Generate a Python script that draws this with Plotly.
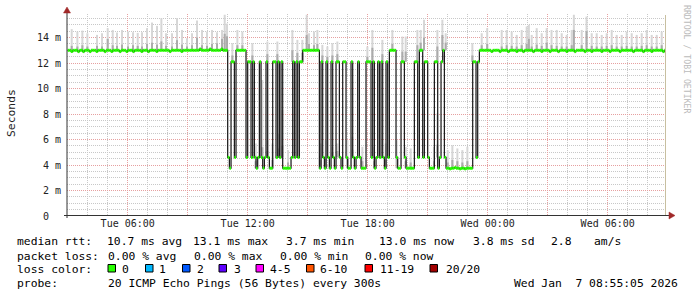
import plotly.graph_objects as go
from datetime import datetime, timedelta

# ---------------- data ----------------
START = datetime(2026, 1, 6, 3, 0)
STEP_MIN = 5

# median RTT (ms), one value per 5-minute step, rows = one hour
median_ms = [
    13.0, 13.0, 12.9, 13.0, 13.0, 13.0, 12.9, 13.0, 13.0, 12.9, 13.0, 13.0,  # Tue 03
    13.0, 12.9, 13.0, 13.0, 13.0, 12.9, 13.0, 13.0, 13.0, 13.0, 12.9, 13.0,  # 04
    13.0, 13.0, 12.9, 13.0, 13.0, 13.0, 13.0, 12.9, 13.0, 13.0, 13.0, 12.9,  # 05
    13.0, 13.0, 13.0, 12.9, 13.0, 13.0, 13.0, 13.0, 12.9, 13.0, 13.0, 13.0,  # 06
    12.9, 13.0, 13.0, 13.0, 13.0, 12.9, 13.0, 13.0, 13.0, 13.0, 13.0, 13.0,  # 07
    13.0, 12.9, 13.0, 13.0, 13.0, 13.0, 13.0, 13.0, 12.9, 13.0, 13.0, 13.0,  # 08
    13.0, 13.0, 13.0, 13.0, 13.0, 13.0, 13.0, 13.1, 13.0, 13.0, 13.0, 13.0,  # 09
    13.0, 13.1, 13.0, 13.0, 13.0, 13.0, 13.0, 13.0, 13.1, 13.0, 13.0, 13.0,  # 10
    4.6, 3.75, 12.1, 12.1, 4.6, 13.0, 13.0, 13.0, 13.0, 13.0, 13.0, 4.6,     # 11
    12.1, 12.1, 4.6, 12.1, 4.6, 3.75, 4.6, 12.1, 4.6, 3.75, 4.6, 12.1,       # 12
    4.6, 3.75, 3.75, 12.1, 12.1, 4.6, 12.1, 4.6, 12.1, 3.75, 3.75, 3.75,     # 13
    3.75, 3.75, 4.6, 12.1, 4.6, 12.1, 4.6, 12.1, 12.1, 13.0, 13.0, 13.0,     # 14
    13.0, 13.0, 13.0, 13.0, 13.0, 13.0, 13.0, 3.75, 12.1, 4.6, 3.75, 12.1,   # 15
    4.6, 3.75, 12.1, 4.6, 3.75, 12.1, 12.1, 4.6, 3.75, 12.1, 12.1, 4.6,      # 16
    3.75, 3.75, 12.1, 4.6, 3.75, 4.6, 12.1, 4.6, 3.75, 3.75, 3.75, 12.1,     # 17
    12.1, 12.1, 4.6, 12.1, 3.75, 4.6, 12.1, 4.6, 12.1, 4.6, 3.75, 12.1,      # 18
    4.6, 13.0, 13.0, 13.0, 13.0, 4.6, 3.75, 3.75, 12.1, 12.1, 4.6, 3.75,     # 19
    3.75, 3.75, 3.75, 3.75, 12.1, 12.1, 4.6, 13.0, 13.0, 4.6, 12.1, 12.1,    # 20
    4.6, 3.75, 3.75, 3.75, 12.1, 12.1, 3.75, 4.6, 12.1, 13.0, 4.6, 3.75,     # 21
    3.75, 3.7, 3.75, 3.75, 3.8, 3.75, 3.75, 3.7, 3.75, 3.75, 3.7, 3.75,      # 22
    3.75, 3.75, 3.75, 12.1, 12.1, 4.6, 12.1, 13.0, 13.0, 13.0, 13.0, 13.0,   # 23
    13.0, 13.0, 12.9, 13.0, 13.0, 13.0, 13.0, 12.9, 13.0, 13.0, 13.0, 13.0,  # Wed 00
    12.9, 13.0, 13.0, 13.0, 13.0, 12.9, 13.0, 13.0, 13.0, 12.9, 13.0, 13.0,  # 01
    13.0, 13.0, 13.0, 12.9, 13.0, 13.0, 13.0, 13.0, 12.9, 13.0, 13.0, 13.0,  # 02
    13.0, 12.9, 13.0, 13.0, 13.0, 13.0, 12.9, 13.0, 13.0, 13.0, 13.0, 12.9,  # 03
    13.0, 13.0, 13.0, 13.0, 12.9, 13.0, 13.0, 13.0, 13.0, 13.0, 12.9, 13.0,  # 04
    13.0, 13.0, 12.9, 13.0, 13.0, 13.0, 13.0, 13.0, 12.9, 13.0, 13.0, 13.0,  # 05
    13.0, 12.9, 13.0, 13.0, 13.0, 13.0, 13.0, 12.9, 13.0, 13.0, 13.0, 13.0,  # 06
    13.0, 13.0, 13.0, 12.9, 13.0, 13.0, 13.0, 13.0, 13.0, 12.9, 13.0, 13.0,  # 07
    13.0, 13.0, 12.9, 13.0, 13.0, 13.0, 13.0, 13.0, 13.0, 12.9, 13.0, 13.0,  # 08
]

# smoke (ping spread) bars: position in steps, low, high, dense-core top (ms)
smoke_pos = [
    2.4, 5.8, 8.8, 11.8, 17.6, 20.6, 24.0, 27.0, 29.6, 32.6, 36.2, 39.2, 42.0, 44.6, 47.6, 50.6,
    53.6, 56.2, 59.0, 62.6, 65.6, 68.6, 71.6, 74.6, 77.6, 80.6, 83.6, 86.6, 89.6, 92.6, 94.2, 95.6,
    98.8, 101.8, 104.8, 110.8, 119.8, 125.8, 134.8, 137.8, 140.8, 143.4, 144.8, 147.8, 149.8, 152.8, 155.8,
    158.8, 161.8, 179.8, 182.8, 188.8, 194.8, 200.8, 202.8, 209.8, 211.8, 213.8, 221.8, 224.8, 226.8, 242.8,
    112.8, 116.8, 119.8, 122.8, 126.8, 128.8, 132.2, 151.8, 154.8, 158.8, 161.8, 167.8, 170.8,
    176.8, 183.8, 190.8, 197.4, 202.8, 205.8, 219.8, 221.8, 228.0, 230.8, 233.8, 236.8, 239.8,
    248.4, 251.7, 260.4, 263.4, 266.4, 269.4, 272.4, 275.4, 276.7, 278.4, 281.4, 284.4, 287.4, 290.3,
    293.4, 296.4, 299.4, 302.4, 303.7, 308.4, 311.3, 314.4, 317.4, 320.4, 323.4, 326.4, 329.4, 332.4,
    335.4, 338.4, 341.4, 344.4, 347.4, 350.4, 353.4, 356.4,
]
smoke_lo = [
    12.95, 12.95, 12.95, 12.95, 12.95, 12.95, 12.95, 12.95, 12.95, 12.95, 12.95, 12.95, 12.95, 12.95, 12.95, 12.95,
    12.95, 12.95, 12.95, 12.95, 12.95, 12.95, 12.95, 12.95, 12.95, 12.95, 12.95, 12.95, 12.95, 12.95, 12.95, 12.95,
    12.1, 13.0, 13.0, 12.1, 12.1, 12.1, 12.1, 12.1, 12.1, 13.0, 13.0, 13.0, 13.0, 12.1, 12.1,
    12.1, 12.1, 12.1, 12.1, 12.1, 13.0, 12.1, 12.1, 12.1, 13.0, 13.0, 12.1, 13.0, 13.0, 12.1,
    3.75, 4.6, 4.6, 3.75, 4.6, 4.6, 3.75, 3.75, 3.75, 4.6, 4.6, 3.75, 4.6,
    3.75, 3.75, 3.75, 3.75, 3.75, 3.75, 3.75, 4.6, 3.75, 3.75, 3.75, 3.75, 3.75,
    12.95, 12.95, 12.95, 12.95, 12.95, 12.95, 12.95, 12.95, 12.95, 12.95, 12.95, 12.95, 12.95, 12.95,
    12.95, 12.95, 12.95, 12.95, 12.95, 12.95, 12.95, 12.95, 12.95, 12.95, 12.95, 12.95, 12.95, 12.95,
    12.95, 12.95, 12.95, 12.95, 12.95, 12.95, 12.95, 12.95,
]
smoke_hi = [
    14.66, 14.47, 14.55, 14.34, 14.21, 14.34, 14.74, 14.60, 14.40, 14.60, 14.47, 14.42, 14.37, 14.42, 14.74, 15.18,
    14.92, 15.52, 14.34, 14.34, 15.52, 14.60, 13.95, 14.34, 15.34, 14.60, 14.47, 14.60, 14.42, 14.60, 15.79, 15.10,
    13.56, 14.60, 14.47, 13.56, 13.69, 13.69, 14.60, 13.82, 13.82, 15.79, 14.34, 14.47, 14.60, 13.43, 13.30,
    13.56, 13.69, 13.30, 14.60, 13.82, 14.60, 14.08, 14.08, 14.60, 14.60, 15.40, 14.60, 15.40, 14.34, 13.56,
    5.69, 10.67, 5.95, 5.69, 6.48, 8.31, 5.17, 5.69, 5.95, 5.43, 5.69, 5.95, 6.22,
    5.43, 5.43, 5.69, 5.95, 5.43, 5.30, 5.43, 8.05, 5.17, 5.55, 5.30, 5.17, 5.43,
    14.34, 14.74, 14.60, 14.60, 14.47, 14.21, 14.60, 14.87, 15.00, 14.21, 14.74, 14.34, 14.74, 14.60,
    14.60, 14.34, 14.21, 14.60, 15.79, 14.60, 15.65, 14.34, 14.34, 14.21, 14.34, 14.60, 14.21, 14.21,
    14.47, 14.34, 14.21, 14.34, 14.60, 14.21, 14.21, 14.47,
]
smoke_core = [
    13.35, 13.30, 13.40, 13.30, 13.35, 13.30, 13.90, 13.40, 13.35, 13.45, 13.30, 13.40, 13.35, 13.30, 13.50, 13.60,
    13.45, 13.70, 13.35, 13.30, 13.80, 13.45, 13.30, 13.40, 14.00, 13.40, 13.35, 13.50, 13.55, 13.90, 14.30, 14.10,
    12.6, 13.4, 13.4, 12.6, 12.7, 12.7, 13.0, 12.8, 12.8, 14.2, 13.5, 13.4, 13.5, 12.6, 12.5,
    12.6, 12.7, 12.5, 13.2, 12.7, 13.5, 12.9, 12.9, 13.4, 13.6, 14.0, 13.3, 14.2, 13.6, 12.6,
    4.3, 5.4, 5.1, 4.4, 5.3, 5.5, 4.2, 4.4, 4.5, 5.0, 5.1, 4.5, 5.2,
    4.3, 4.3, 4.4, 4.5, 4.3, 4.2, 4.3, 5.6, 4.2, 4.4, 4.3, 4.2, 4.3,
    13.4, 13.5, 13.3, 13.4, 13.35, 13.3, 13.4, 13.5, 13.9, 13.3, 13.45, 13.35, 13.6, 13.4,
    13.35, 13.3, 13.3, 13.4, 14.6, 13.4, 14.5, 13.35, 13.3, 13.3, 13.35, 13.4, 13.3, 13.3,
    13.35, 13.3, 13.3, 13.35, 13.4, 13.3, 13.3, 13.4,
]

x_tick_times = ["2026-01-06 03:00", "2026-01-06 06:00", "2026-01-06 09:00", "2026-01-06 12:00",
                "2026-01-06 15:00", "2026-01-06 18:00", "2026-01-06 21:00", "2026-01-07 00:00",
                "2026-01-07 03:00", "2026-01-07 06:00"]
x_tick_labels = ["", "Tue 06:00", "", "Tue 12:00", "", "Tue 18:00", "", "Wed 00:00", "", "Wed 06:00"]
y_tick_vals = [0, 2, 4, 6, 8, 10, 12, 14]
y_tick_labels = ["0\u00a0\u00a0", "2 m", "4 m", "6 m", "8 m", "10 m", "12 m", "14 m"]

rtt_names = ["avg", "max", "min", "now", "sd"]
rtt_values = [10.7, 13.1, 3.7, 13.0, 3.8]
rtt_am_s = 2.8
loss_names = ["avg", "max", "min", "now"]
loss_values = [0.00, 0.00, 0.00, 0.00]
loss_classes = ["0", "1", "2", "3", "4-5", "6-10", "11-19", "20/20"]
probe_text = "20 ICMP Echo Pings (56 Bytes) every 300s"
stamp_text = "Wed Jan  7 08:55:05 2026"

# ---------------- styles / layout ----------------
loss_colors = ["#26ff00", "#00b8ff", "#0059ff", "#5e00ff", "#ff00ff", "#ff5500", "#ff0000", "#a10000"]
FONT = "DejaVu Sans Mono"
W, H = 697, 297
ML, MR, MT, MB = 67, 31, 14, 81
PW, PH = W - ML - MR, H - MT - MB
BOTTOM = H - MB


def px(x):
    return (x - ML) / PW


def py(y):
    return (BOTTOM - y) / PH


step = timedelta(minutes=STEP_MIN)
times = [START + i * step for i in range(len(median_ms))]
smoke_x = [START + timedelta(minutes=STEP_MIN * p) for p in smoke_pos]

fig = go.Figure()

# smoke: light full range, darker dense core
fig.add_trace(go.Bar(x=smoke_x, y=[h - l for h, l in zip(smoke_hi, smoke_lo)], base=smoke_lo,
                     width=6 * 60 * 1000, marker=dict(color="#d6d6d6", line=dict(width=0)),
                     hoverinfo="skip", showlegend=False))
fig.add_trace(go.Bar(x=smoke_x, y=[c - l for c, l in zip(smoke_core, smoke_lo)], base=smoke_lo,
                     width=6 * 60 * 1000, marker=dict(color="#ababab", line=dict(width=0)),
                     hoverinfo="skip", showlegend=False))

# black step line for median
fig.add_trace(go.Scatter(x=times + [times[-1] + step], y=median_ms + [median_ms[-1]],
                         mode="lines", line=dict(color="#151515", width=1.2, shape="hv"),
                         hoverinfo="skip", showlegend=False))

# green (0 loss) median band per step
gx, gy = [], []
for t, v in zip(times, median_ms):
    gx += [t, t + step, None]
    gy += [v, v, None]
fig.add_trace(go.Scatter(x=gx, y=gy, mode="lines", line=dict(color=loss_colors[0], width=3),
                         hoverinfo="skip", showlegend=False))

grid_major = "#e6a0a0"
grid_minor = "#c8c8c8"

fig.update_layout(
    width=W, height=H, margin=dict(l=ML, r=MR, t=MT, b=MB, pad=0),
    paper_bgcolor="white", plot_bgcolor="white", barmode="overlay",
    font=dict(family=FONT, size=10, color="#222"),
    xaxis=dict(type="date", range=["2026-01-06 02:57:54", "2026-01-07 08:54:54"],
               tickmode="array", tickvals=x_tick_times, ticktext=x_tick_labels,
               showgrid=True, gridcolor=grid_major, griddash="1px,1px", gridwidth=1,
               minor=dict(dtick=3600000, tick0="2026-01-06 03:00", showgrid=True,
                          gridcolor=grid_minor, griddash="1px,1px", gridwidth=1),
               ticks="", showline=False, zeroline=False, fixedrange=True,
               tickfont=dict(family=FONT, size=10, color="#222")),
    yaxis=dict(range=[0, 15.85], tickmode="array", tickvals=y_tick_vals, ticktext=y_tick_labels,
               showgrid=True, gridcolor=grid_major, griddash="1px,1px", gridwidth=1,
               minor=dict(dtick=0.5, tick0=0, showgrid=True, gridcolor=grid_minor,
                          griddash="1px,1px", gridwidth=1),
               ticks="", showline=False, zeroline=False, fixedrange=True,
               ticklabelstandoff=5,
               tickfont=dict(family=FONT, size=10, color="#222")),
)

shapes = []
# frame right edge
shapes.append(dict(type="line", xref="paper", yref="paper", x0=px(665.5), x1=px(665.5),
                   y0=py(215.5), y1=py(15), line=dict(color="#c8bfa0", width=1)))
# axes
shapes.append(dict(type="line", xref="paper", yref="paper", x0=px(67), x1=px(67),
                   y0=py(218), y1=py(12), line=dict(color="#333333", width=1)))
shapes.append(dict(type="line", xref="paper", yref="paper", x0=px(64), x1=px(669),
                   y0=py(215.5), y1=py(215.5), line=dict(color="#333333", width=1)))
# arrows
shapes.append(dict(type="path", xref="paper", yref="paper",
                   path=f"M {px(67)},{py(7)} L {px(63.5)},{py(13)} L {px(70.5)},{py(13)} Z",
                   fillcolor="#a02828", line=dict(color="#a02828", width=0.5)))
shapes.append(dict(type="path", xref="paper", yref="paper",
                   path=f"M {px(675)},{py(215.5)} L {px(669)},{py(212)} L {px(669)},{py(219)} Z",
                   fillcolor="#a02828", line=dict(color="#a02828", width=0.5)))

# legend squares
sq_x = [108, 145.5, 182.5, 219, 256, 306.5, 365, 430]
SQ = 7.5
for xs, col in zip(sq_x, loss_colors):
    shapes.append(dict(type="rect", xref="paper", yref="paper", x0=px(xs), x1=px(xs + SQ),
                       y0=py(272), y1=py(264.5), fillcolor=col, line=dict(color="#000000", width=1)))
fig.update_layout(shapes=shapes)

ann = []
LF = 11.35


def text(x, y, s, size=LF, color="#000000", angle=0, xanchor="left"):
    ann.append(dict(x=px(x), y=py(y), xref="paper", yref="paper", text=s.replace(" ", "\u00a0"),
                    showarrow=False, xanchor=xanchor, yanchor="middle", borderpad=0,
                    textangle=angle, font=dict(family=FONT, size=size, color=color)))


row_y = [241.5, 255.5, 269.0, 283.0]
# line 1
text(15.5, row_y[0], "median rtt:")
rtt_x = [106, 192, 285.2, 378, 471.9]
for x, n, v in zip(rtt_x, rtt_names, rtt_values):
    text(x, row_y[0], f"{v:.1f} ms {n}")
text(549.9, row_y[0], f"{rtt_am_s:.1f}")
text(592.5, row_y[0], "am/s")
# line 2
text(15.5, row_y[1], "packet loss:")
loss_x = [106.5, 192.5, 278.5, 364.2]
for x, n, v in zip(loss_x, loss_names, loss_values):
    text(x, row_y[1], f"{v:.2f} % {n}")
# line 3
text(15.5, row_y[2], "loss color:")
lab_x = [120.9, 158.2, 195.9, 232.5, 269.2, 319.2, 378.9, 445.2]
for x, s in zip(lab_x, loss_classes):
    text(x, row_y[2], s)
# line 4
text(15.5, row_y[3], "probe:")
text(106.5, row_y[3], probe_text)
text(512.5, row_y[3], stamp_text)

# axis title and side credit
text(11, 113, "Seconds", size=11.35, color="#222222", angle=-90, xanchor="center")
text(687, 59, "RRDTOOL / TOBI OETIKER", size=8.2, color="#bbbbbb", angle=90, xanchor="center")

fig.update_layout(annotations=ann)
fig.write_html("out.html")
